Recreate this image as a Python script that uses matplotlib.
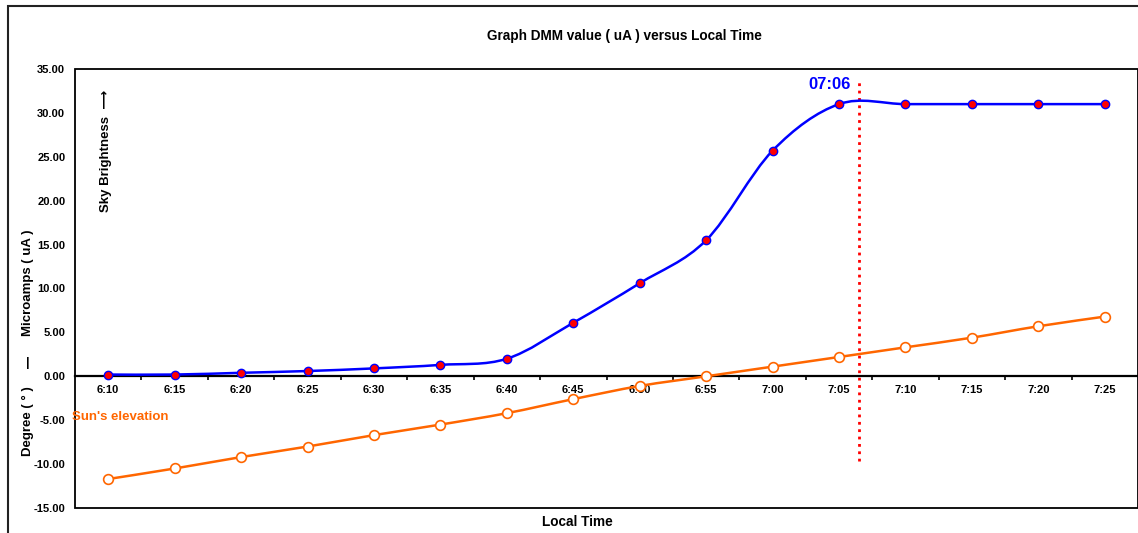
import matplotlib.pyplot as plt
from matplotlib.path import Path
from matplotlib.patches import PathPatch, Rectangle

# data
times = ['6:10', '6:15', '6:20', '6:25', '6:30', '6:35', '6:40', '6:45',
         '6:50', '6:55', '7:00', '7:05', '7:10', '7:15', '7:20', '7:25']
dmm = [0.2, 0.2, 0.4, 0.6, 0.9, 1.3, 2.0, 6.1,
       10.6, 15.5, 25.7, 31.0, 31.0, 31.0, 31.0, 31.0]
elev = [-11.7, -10.5, -9.2, -8.0, -6.7, -5.5, -4.2, -2.6,
        -1.1, 0.0, 1.1, 2.2, 3.3, 4.4, 5.7, 6.8]
mark_pos = 11.3   # 07:06 between 7:05 and 7:10
mark_text = '07:06'

plt.rcParams['font.family'] = ['Liberation Sans', 'DejaVu Sans']

fig = plt.figure(figsize=(11.38, 5.33), dpi=100)
ax = fig.add_axes([75/1138, 1-508/533, 1-75/1138, (508-69)/533])


def smooth_path(xs, ys):
    # excel style smooth line: bezier segments through the points
    verts = [(xs[0], ys[0])]
    codes = [Path.MOVETO]
    n = len(xs)
    for i in range(n-1):
        x0, y0 = xs[max(i-1, 0)], ys[max(i-1, 0)]
        x3, y3 = xs[min(i+2, n-1)], ys[min(i+2, n-1)]
        c1 = (xs[i] + (xs[i+1]-x0)/6, ys[i] + (ys[i+1]-y0)/6)
        c2 = (xs[i+1] - (x3-xs[i])/6, ys[i+1] - (y3-ys[i])/6)
        verts += [c1, c2, (xs[i+1], ys[i+1])]
        codes += [Path.CURVE4]*3
    return Path(verts, codes)


x = list(range(len(times)))
ax.add_patch(PathPatch(smooth_path(x, dmm), fill=False, edgecolor='#0000ff', lw=1.8, zorder=3))
ax.add_patch(PathPatch(smooth_path(x, elev), fill=False, edgecolor='#ff6600', lw=1.8, zorder=3))
ax.plot(x, dmm, ls='none', marker='o', ms=6, mfc='#ff0000', mec='#0000ff', mew=1, zorder=4)
ax.plot(x, elev, ls='none', marker='o', ms=7, mfc='white', mec='#ff6600', mew=1.2, zorder=4)

# sunrise marker
ax.plot([mark_pos, mark_pos], [-9.7, 33.5], color='#ff0000', ls=':', lw=2, zorder=2)
ax.text(mark_pos-0.45, 33.2, mark_text, color='#0000ff', fontsize=12, fontweight='bold',
        ha='center', va='center')

ax.set_xlim(-0.5, len(times)-0.5)
ax.set_ylim(-15, 35)
ax.set_yticks(range(-15, 36, 5))
ax.set_yticklabels(['%.2f' % v for v in range(-15, 36, 5)], fontsize=8, fontweight='bold')
ax.tick_params(axis='y', length=0, pad=7)

ax.spines['bottom'].set_position(('data', 0))
ax.spines['bottom'].set_linewidth(1.6)
for s in ['top', 'right', 'left']:
    ax.spines[s].set_visible(False)
ax.add_patch(Rectangle((0, 0), 1, 1, transform=ax.transAxes, fill=False,
                       edgecolor='black', lw=1.3, clip_on=False))

ax.set_xticks(x)
ax.set_xticklabels(times, fontsize=8, fontweight='bold')
ax.set_xticks([i+0.5 for i in x[:-1]], minor=True)
ax.tick_params(axis='x', which='major', length=0, pad=6)
ax.tick_params(axis='x', which='minor', length=3, width=1.2, direction='out')

# labels
fig.text(624/1138, 1-36/533, 'Graph DMM value ( uA ) versus Local Time', ha='center', va='center',
         fontsize=9.8, fontweight='bold', family=['Liberation Sans Narrow', 'Liberation Sans'])
fig.text(577/1138, 1-522/533, 'Local Time', ha='center', va='center', fontsize=9.8, fontweight='bold')
fig.text(28/1138, 1-283/533, 'Microamps ( uA )', rotation=90, ha='center', va='center',
         fontsize=9.5, fontweight='bold')
fig.text(28/1138, 1-363/533, '|', ha='center', va='center', fontsize=9, fontweight='bold')
fig.text(28/1138, 1-421/533, 'Degree ( ° )', rotation=90, ha='center', va='center',
         fontsize=9.5, fontweight='bold')
fig.text(106/1138, 1-151/533, 'Sky Brightness  ⟶', rotation=90, ha='center', va='center',
         fontsize=9.5, fontweight='bold', family=['Liberation Sans', 'DejaVu Sans'])
fig.text(72/1138, 1-417/533, "Sun's elevation", color='#ff6600', ha='left', va='center',
         fontsize=9.5, fontweight='bold')

# outer chart border
fig.add_artist(Rectangle((8/1138, -0.05), 1.1, 1.05-6/533, transform=fig.transFigure,
                         fill=False, edgecolor='#222222', lw=1.5))

fig.savefig('out.png', dpi=100)
